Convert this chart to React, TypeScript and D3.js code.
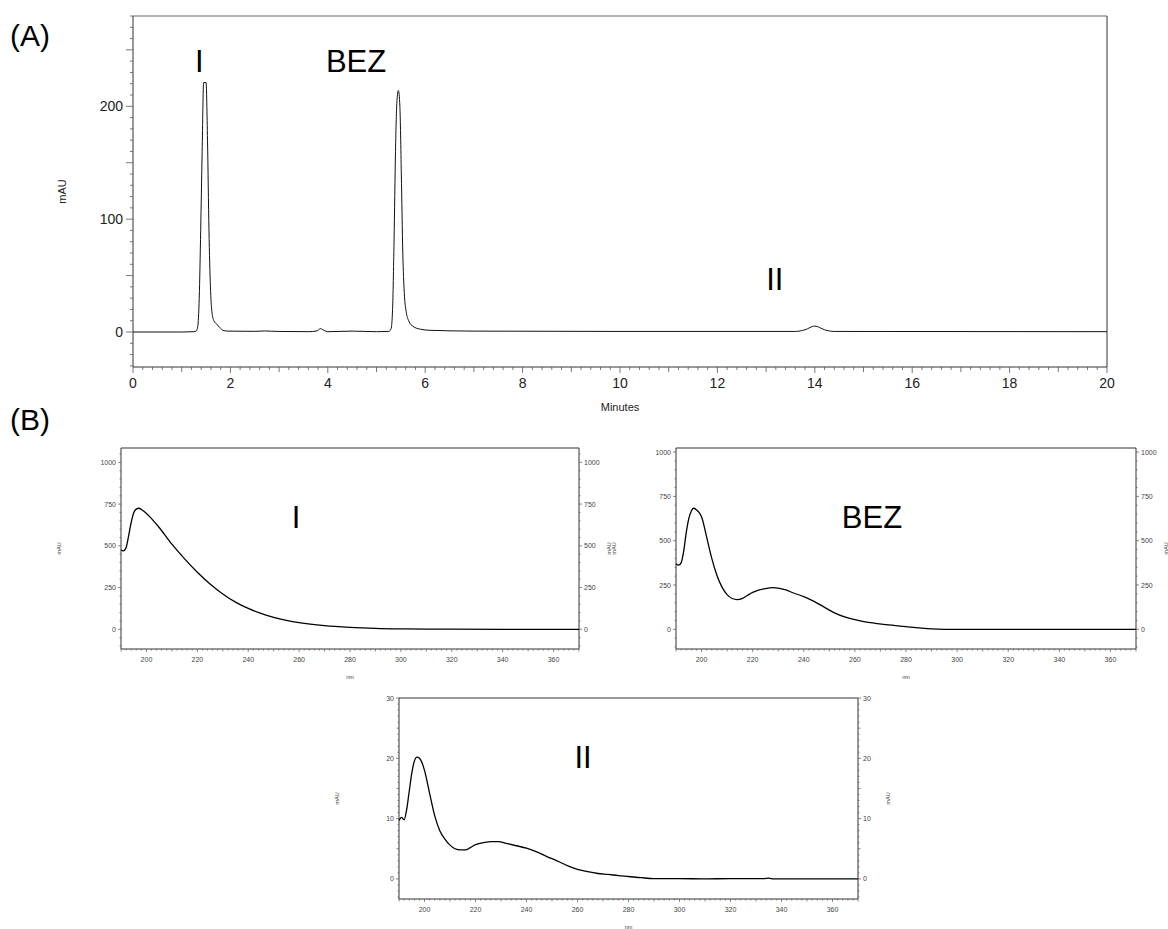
import React from "react";
import * as d3 from "d3";

const FONT = "'Liberation Sans', Arial, Helvetica, sans-serif";

// (A) chromatogram
const chromMinutes = [
  0, 1.0, 1.25, 1.3, 1.33, 1.36, 1.39, 1.42, 1.45, 1.5, 1.53, 1.56, 1.59, 1.62, 1.66, 1.72,
  1.78, 1.85, 1.95, 2.5, 2.7, 3.0, 3.6, 3.78, 3.85, 3.92, 4.0, 4.5, 5.0, 5.25, 5.3, 5.33,
  5.36, 5.39, 5.42, 5.45, 5.48, 5.51, 5.54, 5.57, 5.61, 5.66, 5.75, 5.9, 6.1, 7.0, 10.0,
  13.6, 13.8, 14.0, 14.2, 14.4, 20.0,
];
const chromMau = [
  0, 0, 0.3, 1, 5, 30, 90, 160, 221, 221, 170, 90, 40, 18, 10, 7,
  4, 1.5, 0.8, 0.6, 0.9, 0.5, 0.3, 1, 3, 1.5, 0.3, 0.8, 0.3, 0.5, 3, 20,
  80, 160, 205, 214, 200, 140, 70, 35, 18, 10, 5, 2.5, 1.5, 0.8, 0.5,
  0.5, 2, 5.3, 2, 0.5, 0.3,
];
const minuteTicks = [0, 2, 4, 6, 8, 10, 12, 14, 16, 18, 20];
const mauTicks = [0, 100, 200];

// (B) UV spectra
const wlTicks = [200, 220, 240, 260, 280, 300, 320, 340, 360];

const specIWl = [
  190, 191, 192, 193, 194, 195, 196, 197, 198, 199, 200, 202, 205, 210, 215, 220, 225, 230,
  235, 240, 245, 250, 255, 260, 270, 280, 290, 300, 310, 320, 340, 370,
];
const specIMau = [
  475, 470, 490, 560, 640, 698, 720, 725, 718, 707, 694, 663, 610, 510, 422, 342, 272, 212,
  163, 125, 95, 72, 54, 40, 22, 12, 6, 3, 1.5, 0.5, 0, 0,
];
const specITicks = [0, 250, 500, 750, 1000];

const specBezWl = [
  190, 191, 192, 193, 194, 195, 196, 197, 198, 199, 200, 202, 204, 206, 208, 210, 212, 214,
  216, 218, 220, 222, 225, 228, 230, 233, 236, 240, 244, 248, 252, 256, 260, 264, 268, 272,
  276, 280, 285, 290, 295, 370,
];
const specBezMau = [
  370, 362, 375, 440, 545, 625, 668, 683, 674, 660, 635, 520, 400, 305, 238, 196, 174, 168,
  175, 192, 208, 220, 230, 235, 233, 222, 205, 185, 158, 125, 93, 70, 55, 42, 34, 27,
  21, 15, 8, 2, 0, 0,
];
const specBezTicks = [0, 250, 500, 750, 1000];

const specIIWl = [
  190, 191, 192, 193, 194, 195, 196, 197, 198, 199, 200, 202, 204, 206, 208, 210, 212, 214,
  216, 218, 220, 223, 226, 229, 232, 236, 240, 244, 248, 252, 256, 260, 264, 268, 272, 276,
  280, 285, 290, 300, 310, 320, 333, 335, 337, 350, 370,
];
const specIIMau = [
  9.7, 10.2, 9.8, 11.5, 14.5, 17.5, 19.5, 20.2, 20, 19.3, 18, 14.2, 10.5, 8, 6.6, 5.6, 5, 4.8,
  4.8, 5.2, 5.7, 6.0, 6.2, 6.2, 5.9, 5.5, 5.1, 4.5, 3.7, 3.0, 2.2, 1.6, 1.2, 0.9, 0.75, 0.55,
  0.4, 0.2, 0.05, 0.05, 0, 0.05, 0.05, 0.12, 0, 0, 0,
];
const specIITicks = [0, 10, 20, 30];

const axisColor = "#333";

const Chromatogram = () => {
  const left = 133, right = 1107, top = 16, bottom = 367;
  const x = d3.scaleLinear().domain([0, 20]).range([left, right]);
  const y = d3.scaleLinear().domain([-31, 280]).range([bottom, top]);
  const line = d3
    .line<number>()
    .x((d, i) => x(chromMinutes[i]))
    .y(d => y(d))
    .curve(d3.curveMonotoneX);

  const xMinor = d3.range(0, 20.001, 0.2);
  const yMinor = d3.range(-30, 281, 10);

  return (
    <g>
      <text x={10} y={46} fontSize={30} fontFamily={FONT}>(A)</text>
      {/* frame */}
      <line x1={left} x2={right} y1={top} y2={top} stroke="#666" strokeWidth={1.2} />
      <line x1={right} x2={right} y1={top} y2={bottom} stroke={axisColor} />
      <line x1={left} x2={left} y1={top} y2={bottom} stroke={axisColor} />
      <line x1={left} x2={right} y1={bottom} y2={bottom} stroke={axisColor} />

      {yMinor.map(v => {
        const r = Math.round(v);
        const len = r % 50 === 0 ? 7 : 3;
        return (
          <line key={"ym" + v} x1={left - len} x2={left} y1={y(v)} y2={y(v)} stroke="#555" strokeWidth={0.8} />
        );
      })}
      {mauTicks.map(v => (
        <text key={"yl" + v} x={left - 10} y={y(v) + 5} textAnchor="end" fontSize={14} fontFamily={FONT} fill="#222">
          {v}
        </text>
      ))}

      {xMinor.map(v => {
        const r = Math.round(v * 10);
        const len = r % 20 === 0 ? 6 : r % 10 === 0 ? 5 : 3;
        return (
          <line key={"xm" + v} x1={x(v)} x2={x(v)} y1={bottom} y2={bottom + len} stroke="#555" strokeWidth={0.8} />
        );
      })}
      {minuteTicks.map(v => (
        <text key={"xl" + v} x={x(v)} y={bottom + 21} textAnchor="middle" fontSize={14} fontFamily={FONT} fill="#222">
          {v}
        </text>
      ))}
      <text x={(left + right) / 2} y={411} textAnchor="middle" fontSize={11} fontFamily={FONT} fill="#222">
        Minutes
      </text>
      <text
        transform={`translate(66, ${(top + bottom) / 2}) rotate(-90)`}
        textAnchor="middle"
        fontSize={11}
        fontFamily={FONT}
        fill="#222"
      >
        mAU
      </text>

      <path d={line(chromMau) || ""} fill="none" stroke="#111" strokeWidth={1} />

      <text x={x(1.36)} y={72} textAnchor="middle" fontSize={31} fontFamily={FONT}>I</text>
      <text x={x(4.58)} y={72} textAnchor="middle" fontSize={31} fontFamily={FONT}>BEZ</text>
      <text x={x(13.18)} y={290} textAnchor="middle" fontSize={31} fontFamily={FONT}>II</text>
    </g>
  );
};

type SpecProps = {
  left: number;
  right: number;
  top: number;
  bottom: number;
  yDomain: [number, number];
  yTicks: number[];
  yMinorStep: number;
  yMidStep: number;
  wl: number[];
  mau: number[];
  label: string;
  labelX: number;
  labelY: number;
};

const Spectrum = (props: SpecProps) => {
  const { left, right, top, bottom, yDomain, yTicks, yMinorStep, yMidStep, wl, mau, label, labelX, labelY } = props;
  const x = d3.scaleLinear().domain([190, 370]).range([left, right]);
  const y = d3.scaleLinear().domain(yDomain).range([bottom, top]);
  const line = d3
    .line<number>()
    .x((d, i) => x(wl[i]))
    .y(d => y(d))
    .curve(d3.curveMonotoneX);

  const xMinor = d3.range(190, 370.01, 2);
  const yStart = Math.ceil(yDomain[0] / yMinorStep) * yMinorStep;
  const yMinor = d3.range(yStart, yDomain[1] + 0.001, yMinorStep);
  const isMul = (v: number, s: number) => Math.abs(v / s - Math.round(v / s)) < 1e-6;

  return (
    <g>
      <line x1={left} x2={right} y1={top} y2={top} stroke="#777" strokeWidth={1.4} />
      <line x1={left} x2={left} y1={top} y2={bottom} stroke={axisColor} />
      <line x1={right} x2={right} y1={top} y2={bottom} stroke={axisColor} />
      <line x1={left} x2={right} y1={bottom} y2={bottom} stroke={axisColor} />

      {xMinor.map(v => {
        const len = isMul(v, 20) ? 3 : isMul(v, 10) ? 2.5 : 1.5;
        return <line key={"xm" + v} x1={x(v)} x2={x(v)} y1={bottom} y2={bottom + len} stroke="#555" strokeWidth={0.7} />;
      })}
      {wlTicks.map(v => (
        <text key={"xl" + v} x={x(v)} y={bottom + 13} textAnchor="middle" fontSize={7} fontFamily={FONT} fill="#444">
          {v}
        </text>
      ))}

      {yMinor.map(v => {
        const major = yTicks.some(t => Math.abs(t - v) < 1e-6);
        const len = major ? 3 : isMul(v, yMidStep) ? 2.5 : 1.5;
        return (
          <g key={"ym" + v}>
            <line x1={left - len} x2={left} y1={y(v)} y2={y(v)} stroke="#555" strokeWidth={0.7} />
            <line x1={right} x2={right + len} y1={y(v)} y2={y(v)} stroke="#555" strokeWidth={0.7} />
          </g>
        );
      })}
      {yTicks.map(v => (
        <g key={"yl" + v}>
          <text x={left - 5} y={y(v) + 2.5} textAnchor="end" fontSize={7} fontFamily={FONT} fill="#444">
            {v}
          </text>
          <text x={right + 5} y={y(v) + 2.5} textAnchor="start" fontSize={7} fontFamily={FONT} fill="#444">
            {v}
          </text>
        </g>
      ))}

      <text
        transform={`translate(${left - 60}, ${(top + bottom) / 2}) rotate(-90)`}
        textAnchor="middle"
        fontSize={5.5}
        fontFamily={FONT}
        fill="#444"
      >
        mAU
      </text>
      <text
        transform={`translate(${right + 32}, ${(top + bottom) / 2}) rotate(-90)`}
        textAnchor="middle"
        fontSize={5.5}
        fontFamily={FONT}
        fill="#444"
      >
        mAU
      </text>
      <text x={(left + right) / 2} y={bottom + 30} textAnchor="middle" fontSize={5.5} fontFamily={FONT} fill="#444">
        nm
      </text>

      <path d={line(mau) || ""} fill="none" stroke="#000" strokeWidth={1.3} />

      <text x={labelX} y={labelY} textAnchor="middle" fontSize={31} fontFamily={FONT}>
        {label}
      </text>
    </g>
  );
};

const App = () => {
  return (
    <svg
      width={1168}
      height={929}
      style={{ position: "absolute", left: 0, top: 0, background: "#fff" }}
    >
      <rect width={1168} height={929} fill="#fff" />
      <Chromatogram />
      <text x={10} y={430} fontSize={30} fontFamily={FONT}>(B)</text>
      <Spectrum
        left={121}
        right={579}
        top={448}
        bottom={649}
        yDomain={[-118, 1086]}
        yTicks={specITicks}
        yMinorStep={50}
        yMidStep={250}
        wl={specIWl}
        mau={specIMau}
        label="I"
        labelX={296}
        labelY={528}
      />
      <Spectrum
        left={676}
        right={1136}
        top={448}
        bottom={649}
        yDomain={[-111, 1023]}
        yTicks={specBezTicks}
        yMinorStep={50}
        yMidStep={250}
        wl={specBezWl}
        mau={specBezMau}
        label="BEZ"
        labelX={872}
        labelY={528}
      />
      <Spectrum
        left={399}
        right={858}
        top={698}
        bottom={899}
        yDomain={[-3.33, 30]}
        yTicks={specIITicks}
        yMinorStep={1}
        yMidStep={5}
        wl={specIIWl}
        mau={specIIMau}
        label="II"
        labelX={583}
        labelY={768}
      />
    </svg>
  );
};

export default App;
